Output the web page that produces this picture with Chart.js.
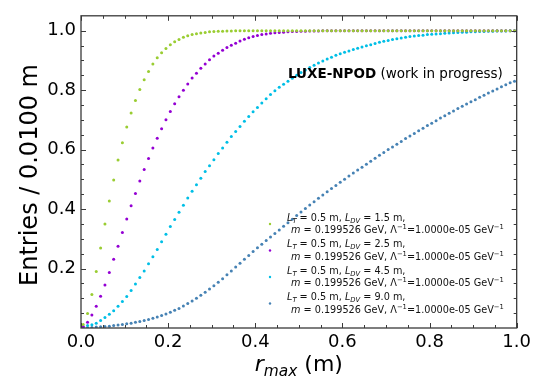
<!DOCTYPE html>
<html>
<head>
<meta charset="utf-8">
<script src="https://cdn.jsdelivr.net/npm/chart.js@4.4.1/dist/chart.umd.min.js"></script>
<style>
  html, body { margin: 0; padding: 0; background: #fff; }
  #wrap { width: 535px; height: 376px; }
</style>
</head>
<body>
<div id="wrap"><canvas id="c" width="535" height="376"></canvas></div>
<script>
// cumulative r_max distributions, 0.01 m bins
var binWidth = 0.01;
var nBins = 100;

var xTicks = [0.0, 0.2, 0.4, 0.6, 0.8, 1.0];
var yTicks = [0.2, 0.4, 0.6, 0.8, 1.0];

var ldvLabels = ['1.5', '2.5', '4.5', '9.0'];

var cdfLdv15 = [
  0.012, 0.049, 0.113, 0.190, 0.269, 0.350, 0.427, 0.498, 0.565, 0.623,
  0.676, 0.723, 0.765, 0.802, 0.835, 0.863, 0.888, 0.909, 0.926, 0.940,
  0.953, 0.963, 0.970, 0.978, 0.983, 0.987, 0.990, 0.992, 0.994, 0.996,
  0.997, 0.998, 0.998, 0.999, 0.999, 1.000, 1.000, 1.000, 1.000, 1.000,
  1.000, 1.000, 1.000, 1.000, 1.000, 1.000, 1.000, 1.000, 1.000, 1.000,
  1.000, 1.000, 1.000, 1.000, 1.000, 1.000, 1.000, 1.000, 1.000, 1.000,
  1.000, 1.000, 1.000, 1.000, 1.000, 1.000, 1.000, 1.000, 1.000, 1.000,
  1.000, 1.000, 1.000, 1.000, 1.000, 1.000, 1.000, 1.000, 1.000, 1.000,
  1.000, 1.000, 1.000, 1.000, 1.000, 1.000, 1.000, 1.000, 1.000, 1.000,
  1.000, 1.000, 1.000, 1.000, 1.000, 1.000, 1.000, 1.000, 1.000, 1.000
];
var cdfLdv25 = [
  0.005, 0.019, 0.044, 0.073, 0.107, 0.145, 0.187, 0.231, 0.275, 0.321,
  0.367, 0.411, 0.452, 0.494, 0.533, 0.570, 0.605, 0.638, 0.670, 0.700,
  0.728, 0.754, 0.778, 0.800, 0.821, 0.841, 0.857, 0.874, 0.888, 0.902,
  0.915, 0.924, 0.934, 0.943, 0.951, 0.958, 0.965, 0.971, 0.976, 0.980,
  0.984, 0.987, 0.989, 0.991, 0.993, 0.994, 0.995, 0.996, 0.997, 0.997,
  0.998, 0.998, 0.999, 0.999, 0.999, 1.000, 1.000, 1.000, 1.000, 1.000,
  1.000, 1.000, 1.000, 1.000, 1.000, 1.000, 1.000, 1.000, 1.000, 1.000,
  1.000, 1.000, 1.000, 1.000, 1.000, 1.000, 1.000, 1.000, 1.000, 1.000,
  1.000, 1.000, 1.000, 1.000, 1.000, 1.000, 1.000, 1.000, 1.000, 1.000,
  1.000, 1.000, 1.000, 1.000, 1.000, 1.000, 1.000, 1.000, 1.000, 1.000
];
var cdfLdv45 = [
  0.003, 0.008, 0.011, 0.016, 0.025, 0.035, 0.046, 0.058, 0.073, 0.089,
  0.106, 0.126, 0.148, 0.170, 0.192, 0.216, 0.240, 0.264, 0.290, 0.315,
  0.341, 0.365, 0.389, 0.413, 0.437, 0.460, 0.482, 0.504, 0.526, 0.546,
  0.566, 0.587, 0.605, 0.625, 0.644, 0.661, 0.678, 0.695, 0.711, 0.727,
  0.742, 0.757, 0.771, 0.785, 0.798, 0.810, 0.820, 0.830, 0.840, 0.850,
  0.859, 0.868, 0.876, 0.884, 0.891, 0.898, 0.905, 0.911, 0.917, 0.922,
  0.927, 0.932, 0.937, 0.941, 0.945, 0.949, 0.953, 0.957, 0.961, 0.964,
  0.967, 0.970, 0.973, 0.975, 0.978, 0.980, 0.982, 0.984, 0.985, 0.987,
  0.988, 0.989, 0.990, 0.991, 0.992, 0.993, 0.994, 0.995, 0.995, 0.996,
  0.996, 0.997, 0.997, 0.998, 0.998, 0.999, 0.999, 0.999, 1.000, 1.000
];
var cdfLdv90 = [
  0.000, 0.001, 0.002, 0.003, 0.004, 0.005, 0.006, 0.008, 0.010, 0.012,
  0.014, 0.016, 0.019, 0.022, 0.025, 0.029, 0.033, 0.037, 0.042, 0.047,
  0.053, 0.060, 0.066, 0.074, 0.082, 0.091, 0.100, 0.110, 0.120, 0.131,
  0.142, 0.154, 0.166, 0.179, 0.192, 0.205, 0.218, 0.231, 0.244, 0.257,
  0.270, 0.282, 0.294, 0.306, 0.318, 0.330, 0.342, 0.354, 0.366, 0.378,
  0.390, 0.402, 0.414, 0.425, 0.436, 0.447, 0.458, 0.469, 0.479, 0.490,
  0.500, 0.511, 0.521, 0.531, 0.541, 0.551, 0.561, 0.571, 0.581, 0.590,
  0.600, 0.609, 0.618, 0.627, 0.637, 0.646, 0.654, 0.663, 0.672, 0.681,
  0.689, 0.697, 0.706, 0.714, 0.722, 0.730, 0.738, 0.746, 0.753, 0.761,
  0.768, 0.776, 0.783, 0.790, 0.797, 0.804, 0.811, 0.818, 0.825, 0.830
];

var seriesColors = ['#9acd32', '#9400d3', '#00bfe6', '#4682b4'];

// bin centres along r_max
var rCentres = [];
for (var i = 0; i < nBins; i++) rCentres.push(+((i + 0.5) * binWidth).toFixed(3));

var FONT = "'DejaVu Sans', sans-serif";

function toPoints(vals) {
  return vals.map(function (v, i) { return { x: rCentres[i], y: v }; });
}

var allSeries = [cdfLdv15, cdfLdv25, cdfLdv45, cdfLdv90];
var datasets = allSeries.map(function (vals, k) {
  return {
    label: 'L_DV = ' + ldvLabels[k] + ' m',
    data: toPoints(vals),
    backgroundColor: seriesColors[k],
    borderWidth: 0,
    pointRadius: 1.5,
    showLine: false
  };
});

// draws a run of text pieces: italic / bold / sub / sup
function drawRuns(ctx, x, y, size, runs) {
  var cx = x;
  runs.forEach(function (r) {
    var s = size, dy = 0;
    if (r.sub) { s = size * 0.7; dy = size * 0.22; }
    if (r.sup) { s = size * 0.7; dy = -size * 0.38; }
    var style = (r.i ? 'italic ' : '') + (r.b ? 'bold ' : '');
    ctx.font = style + s + 'px ' + FONT;
    ctx.fillText(r.t, cx, y + dy);
    cx += ctx.measureText(r.t).width;
  });
  return cx - x;
}
function runsWidth(ctx, size, runs) {
  var w = 0;
  runs.forEach(function (r) {
    var s = (r.sub || r.sup) ? size * 0.7 : size;
    ctx.font = (r.i ? 'italic ' : '') + (r.b ? 'bold ' : '') + s + 'px ' + FONT;
    w += ctx.measureText(r.t).width;
  });
  return w;
}

var decorations = {
  id: 'decorations',
  afterDraw: function (chart) {
    var ctx = chart.ctx, a = chart.chartArea;
    var xs = chart.scales.x, ys = chart.scales.y;
    ctx.save();

    // frame
    ctx.strokeStyle = '#3a3a3a';
    ctx.lineWidth = 1.3;
    ctx.strokeRect(a.left, a.top, a.right - a.left, a.bottom - a.top);

    // inward ticks on all four sides
    ctx.lineWidth = 1;
    ctx.strokeStyle = '#3a3a3a';
    ctx.beginPath();
    for (var k = 0; k <= 20; k++) {
      var v = k * 0.05, len = (k % 4 === 0) ? 5 : 3;
      var px = Math.round(xs.getPixelForValue(v)) + 0.5;
      ctx.moveTo(px, a.bottom); ctx.lineTo(px, a.bottom - len);
      ctx.moveTo(px, a.top); ctx.lineTo(px, a.top + len);
    }
    for (var j = 1; j <= 21; j++) {
      var w = j * 0.05, l2 = (j % 4 === 0) ? 5 : 3;
      var py = Math.round(ys.getPixelForValue(w)) + 0.5;
      if (py < a.top + 1) continue;
      ctx.moveTo(a.left, py); ctx.lineTo(a.left + l2, py);
      ctx.moveTo(a.right, py); ctx.lineTo(a.right - l2, py);
    }
    ctx.stroke();

    ctx.fillStyle = '#000';
    ctx.textBaseline = 'alphabetic';
    ctx.textAlign = 'left';

    // y axis title
    ctx.save();
    ctx.translate(37, 175);
    ctx.rotate(-Math.PI / 2);
    ctx.textAlign = 'center';
    ctx.font = '24px ' + FONT;
    ctx.fillText('Entries / 0.0100 m', 0, 0);
    ctx.restore();

    // x axis title
    var xt = [{ t: 'r', i: true }, { t: 'max', i: true, sub: true }, { t: ' (m)' }];
    var xw = runsWidth(ctx, 22, xt);
    drawRuns(ctx, (a.left + a.right) / 2 - xw / 2, 371, 22, xt);

    // experiment tag
    drawRuns(ctx, 288, 78, 13.5, [{ t: 'LUXE-NPOD', b: true }, { t: ' (work in progress)' }]);

    // legend
    var fs = 9.7;
    ldvLabels.forEach(function (ldv, k) {
      var base = 220.5 + k * 26.5;
      ctx.fillStyle = seriesColors[k];
      ctx.beginPath();
      ctx.arc(270, base + 3.5, 1.2, 0, Math.PI * 2);
      ctx.fill();
      ctx.fillStyle = '#111';
      drawRuns(ctx, 287, base, fs, [
        { t: 'L', i: true }, { t: 'T', i: true, sub: true }, { t: ' = 0.5 m, ' },
        { t: 'L', i: true }, { t: 'DV', i: true, sub: true }, { t: ' = ' + ldv + ' m,' }
      ]);
      drawRuns(ctx, 291, base + 12.5, fs, [
        { t: 'm', i: true }, { t: ' = 0.199526 GeV, \u039B' }, { t: '\u22121', sup: true },
        { t: '=1.0000e-05 GeV' }, { t: '\u22121', sup: true }
      ]);
    });

    ctx.restore();
  }
};

new Chart(document.getElementById('c'), {
  type: 'scatter',
  data: { datasets: datasets },
  options: {
    responsive: false,
    animation: false,
    devicePixelRatio: 1,
    layout: { padding: { top: 10, right: 18, left: 0, bottom: 0 } },
    plugins: { legend: { display: false }, tooltip: { enabled: false } },
    scales: {
      x: {
        type: 'linear', min: 0, max: 1,
        grid: { display: false, drawTicks: false },
        border: { display: false },
        afterBuildTicks: function (s) { s.ticks = xTicks.map(function (v) { return { value: v }; }); },
        afterFit: function (s) { s.height = 48; },
        ticks: {
          font: { family: FONT, size: 18 }, color: '#000', padding: 4, maxRotation: 0,
          callback: function (v) { return v.toFixed(1); }
        }
      },
      y: {
        type: 'linear', min: 0, max: 1.05,
        grid: { display: false, drawTicks: false },
        border: { display: false },
        afterBuildTicks: function (s) { s.ticks = yTicks.map(function (v) { return { value: v }; }); },
        afterFit: function (s) { s.width = 81; },
        ticks: {
          font: { family: FONT, size: 18 }, color: '#000', padding: 5,
          callback: function (v) { return v.toFixed(1); }
        }
      }
    }
  },
  plugins: [decorations]
});
</script>
</body>
</html>
